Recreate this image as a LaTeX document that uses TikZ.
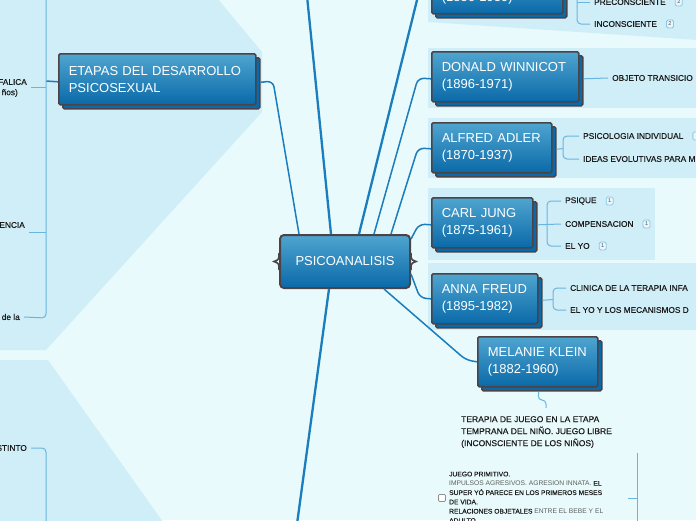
\documentclass[tikz,border=0pt]{standalone}
\usepackage{fontspec}
\setmainfont{Liberation Sans}
\newfontfamily\leaffont[FakeBold=0.4]{Liberation Sans}
\usetikzlibrary{positioning,shadows}
\definecolor{canvas}{HTML}{E8FAFB}
\definecolor{panel}{HTML}{D0EEF8}
\definecolor{topictop}{HTML}{4FA5D0}
\definecolor{topicbot}{HTML}{0A69A8}
\definecolor{rim}{HTML}{4B4346}
\definecolor{trunkblue}{HTML}{1A7DBD}
\definecolor{twigblue}{HTML}{6AB5DF}
\definecolor{ink}{HTML}{1C1C1C}
\definecolor{faded}{HTML}{5E5E5E}
\definecolor{badgerim}{HTML}{8CC5E3}
\definecolor{badgefill}{HTML}{E9F6FC}

\begin{document}
\begin{tikzpicture}[x=1pt, y=-1pt,
  every node/.style={font=\leaffont\fontsize{8.3}{10}\selectfont, text=ink},
  topic/.style={rectangle, rounded corners=1.5pt, draw=rim, line width=1.6pt,
                top color=topictop, bottom color=topicbot, text=white,
                anchor=north west, align=left, inner xsep=10pt,
                minimum height=50pt, font=\rmfamily\fontsize{13}{16.5}\selectfont,
                copy shadow={shadow xshift=4pt, shadow yshift=-4pt,
                             fill=topicbot, draw=rim}},
  hub/.style={rectangle, rounded corners=4pt, draw=rim, line width=2pt,
              top color=topictop, bottom color=topicbot, text=white,
              minimum width=130pt, minimum height=53pt,
              font=\rmfamily\fontsize{13}{16}\selectfont},
  leaf/.style={anchor=west, inner xsep=4pt, inner ysep=1pt},
  lleaf/.style={anchor=east, inner xsep=4pt, inner ysep=1pt},
  badge/.style={rectangle, rounded corners=1.5pt, draw=badgerim, fill=badgefill,
                line width=0.8pt, minimum width=7pt, minimum height=8pt,
                inner sep=0pt, text=faded!80!black, font=\rmfamily\fontsize{5.5}{5.5}\selectfont},
  tickbox/.style={rectangle, rounded corners=1.2pt, draw=faded!70, fill=white,
                  line width=0.7pt, minimum size=7pt, inner sep=0pt},
  trunk/.style={draw=trunkblue, line width=1.5pt, rounded corners=6pt},
  bough/.style={trunk, line width=2.3pt},
  twig/.style={draw=twigblue, line width=1pt, rounded corners=4pt},
]
\useasboundingbox (0,0) rectangle (696,520);
\clip (0,0) rectangle (696,520);

%% background and panels
\fill[canvas] (0,0) rectangle (696,520);
\fill[panel] (0,-2) -- (217,-2) -- (262,52) -- (262,112) -- (46,350) -- (0,350) -- cycle;
\fill[panel] (0,360) -- (48,360) -- (163,522) -- (0,522) -- cycle;
\fill[panel] (428,-2) -- (698,-2) -- (698,40) -- (428,22) -- cycle;
\fill[panel] (428,48) rectangle (698,108);
\fill[panel] (428,118) rectangle (698,178);
\fill[panel] (428,188) rectangle (655,260);
\fill[panel] (428,263) rectangle (698,330);

%% main topics
\node[hub] (C) at (345,261.5) {PSICOANALISIS};
\node[topic, text width=177pt, minimum height=51pt] (E) at (58,53)
  {ETAPAS DEL DESARROLLO\\PSICOSEXUAL};
\node[topic, text width=111pt] (F) at (431,-37) {\strut\\(1856-1939)};
\node[topic, text width=127pt] (W) at (431,51) {DONALD WINNICOT\\(1896-1971)};
\node[topic, text width=100pt] (A) at (431,122) {ALFRED ADLER\\(1870-1937)};
\node[topic, text width=81pt] (J) at (431,197) {CARL JUNG\\(1875-1961)};
\node[topic, text width=86pt] (AF) at (431,273) {ANNA FREUD\\(1895-1982)};
\node[topic, text width=100pt] (M) at (477,336) {MELANIE KLEIN\\(1882-1960)};

%% hub braces
\draw[rim, line width=1.6pt, line cap=round]
  ([yshift=8pt]C.west) .. controls ([yshift=2pt]C.west) .. ([xshift=-5pt]C.west)
  .. controls ([yshift=-2pt]C.west) .. ([yshift=-8pt]C.west);
\draw[rim, line width=1.6pt, line cap=round]
  ([yshift=8pt]C.east) .. controls ([yshift=2pt]C.east) .. ([xshift=5pt]C.east)
  .. controls ([yshift=-2pt]C.east) .. ([yshift=-8pt]C.east);

%% leaves
\node[leaf] (PRE) at (590,2) {PRECONSCIENTE};
\node[badge, right=5pt of PRE] (PREb) {2};
\node[leaf] (INC) at (590,24) {INCONSCIENTE};
\node[badge, right=5pt of INC] (INCb) {2};
\node[leaf] (OT) at (608,78) {OBJETO TRANSICIO};
\node[leaf] (PI) at (579,136) {PSICOLOGIA INDIVIDUAL};
\node[badge, right=5pt of PI] (PIb) {};
\node[leaf] (IE) at (579,159) {IDEAS EVOLUTIVAS PARA M};
\node[leaf] (PS) at (561,201) {PSIQUE};
\node[badge, right=5pt of PS] (PSb) {1};
\node[leaf] (CO) at (561,224) {COMPENSACION};
\node[badge, right=5pt of CO] (COb) {1};
\node[leaf] (EY) at (561,246) {EL YO};
\node[badge, right=5pt of EY] (EYb) {1};
\node[leaf] (CL) at (566,288) {CLINICA DE LA TERAPIA INFA};
\node[leaf] (EM) at (566,310) {EL YO Y LOS MECANISMOS D};

\node[lleaf] (FA) at (31,82) {FALICA};
\node[lleaf] (FA2) at (22,93) {ños)};
\node[lleaf] (EN) at (29,225) {ENCIA};
\node[lleaf] (DL) at (24,317) {de la};
\node[lleaf] (ST) at (31,448) {STINTO};

\node[anchor=north west, align=left, inner sep=0pt,
      font=\leaffont\fontsize{8.5}{12}\selectfont] (T) at (461,416)
  {TERAPIA DE JUEGO EN LA ETAPA\\TEMPRANA DEL NIÑO. JUEGO LIBRE\\(INCONSCIENTE DE LOS NIÑOS)};
\node[anchor=north west, align=left, inner sep=0pt,
      font=\leaffont\fontsize{6.7}{9.3}\selectfont] (B) at (449,471.5)
  {JUEGO PRIMITIVO.\\
   {\rmfamily\color{faded}IMPULSOS AGRESIVOS. AGRESION INNATA.} EL\\
   SUPER YÓ PARECE EN LOS PRIMEROS MESES\\
   DE VIDA.\\
   RELACIONES OBJETALES {\rmfamily\color{faded}ENTRE EL BEBE Y EL}\\
   ADULTO};
\node[tickbox] (CB) at (442,498) {};

%% hub links
\coordinate (up) at (307,-4);
\coordinate (down) at (297,524);
\draw[trunk] ([xshift=20pt]C.north west) -- (273,81) -- ([shift={(4pt,-3pt)}]E.east);
\draw[bough] ([xshift=52pt]C.north west) -- (up);
\draw[bough] ([xshift=80pt]C.north west) -- (420,-12) -- (F.west);
\draw[trunk] ([xshift=95pt]C.north west) -- (418,78) -- ([yshift=-2pt]W.west);
\draw[trunk] ([xshift=112pt]C.north west) -- (418,148) -- ([yshift=-1pt]A.west);
\draw[trunk] ([yshift=-5pt]C.north east) -- (419,224) -- ([yshift=-2pt]J.west);
\draw[trunk] ([yshift=-40pt]C.north east) -- (420,298) -- (AF.west);
\draw[trunk] ([xshift=105pt]C.south west) -- (466,360) -- (M.west);
\draw[bough] ([xshift=50pt]C.south west) -- (down);

%% child links
\draw[twig] (577,-6) -- (577,24) -- (INC.west);
\draw[twig] (577,2) -- (PRE.west);
\draw[twig] ([shift={(4pt,-2pt)}]W.east) -- (OT.west);
\draw[twig] (PI.west) -- (563,136) -- (563,159) -- (IE.west);
\draw[twig] ([shift={(4pt,-1.5pt)}]A.east) -- (563,148.5);
\draw[twig] (PS.west) -- (547,201) -- (547,246) -- (EY.west);
\draw[twig] ([shift={(4pt,-2pt)}]J.east) -- (CO.west);
\draw[twig] (CL.west) -- (553,288) -- (553,310) -- (EM.west);
\draw[twig] ([shift={(4pt,-1.5pt)}]AF.east) -- (553,299.5);

\draw[trunk] ([yshift=-2.5pt]E.west) -- (46,81);
\draw[twig] (46,-6) -- (46,318) -- (DL.east);
\draw[twig] ([yshift=-5pt]FA.east) -- (46,87);
\draw[twig] ([yshift=-7pt]EN.east) -- (46,232);
\draw[twig] (ST.east) -- (46,448) -- (46,526);

\coordinate (tin) at (546,408);
\draw[twig] ([shift={(1pt,-4pt)}]M.south) -- (538,400) -- (546,400) -- (tin);
\coordinate (btop) at (637,453);
\coordinate (bbot) at (637,526);
\coordinate (bjoin) at (628,498);
\draw[twig] (btop) -- (bbot);
\draw[twig] (bjoin) -- (637,498);

\end{tikzpicture}
\end{document}
